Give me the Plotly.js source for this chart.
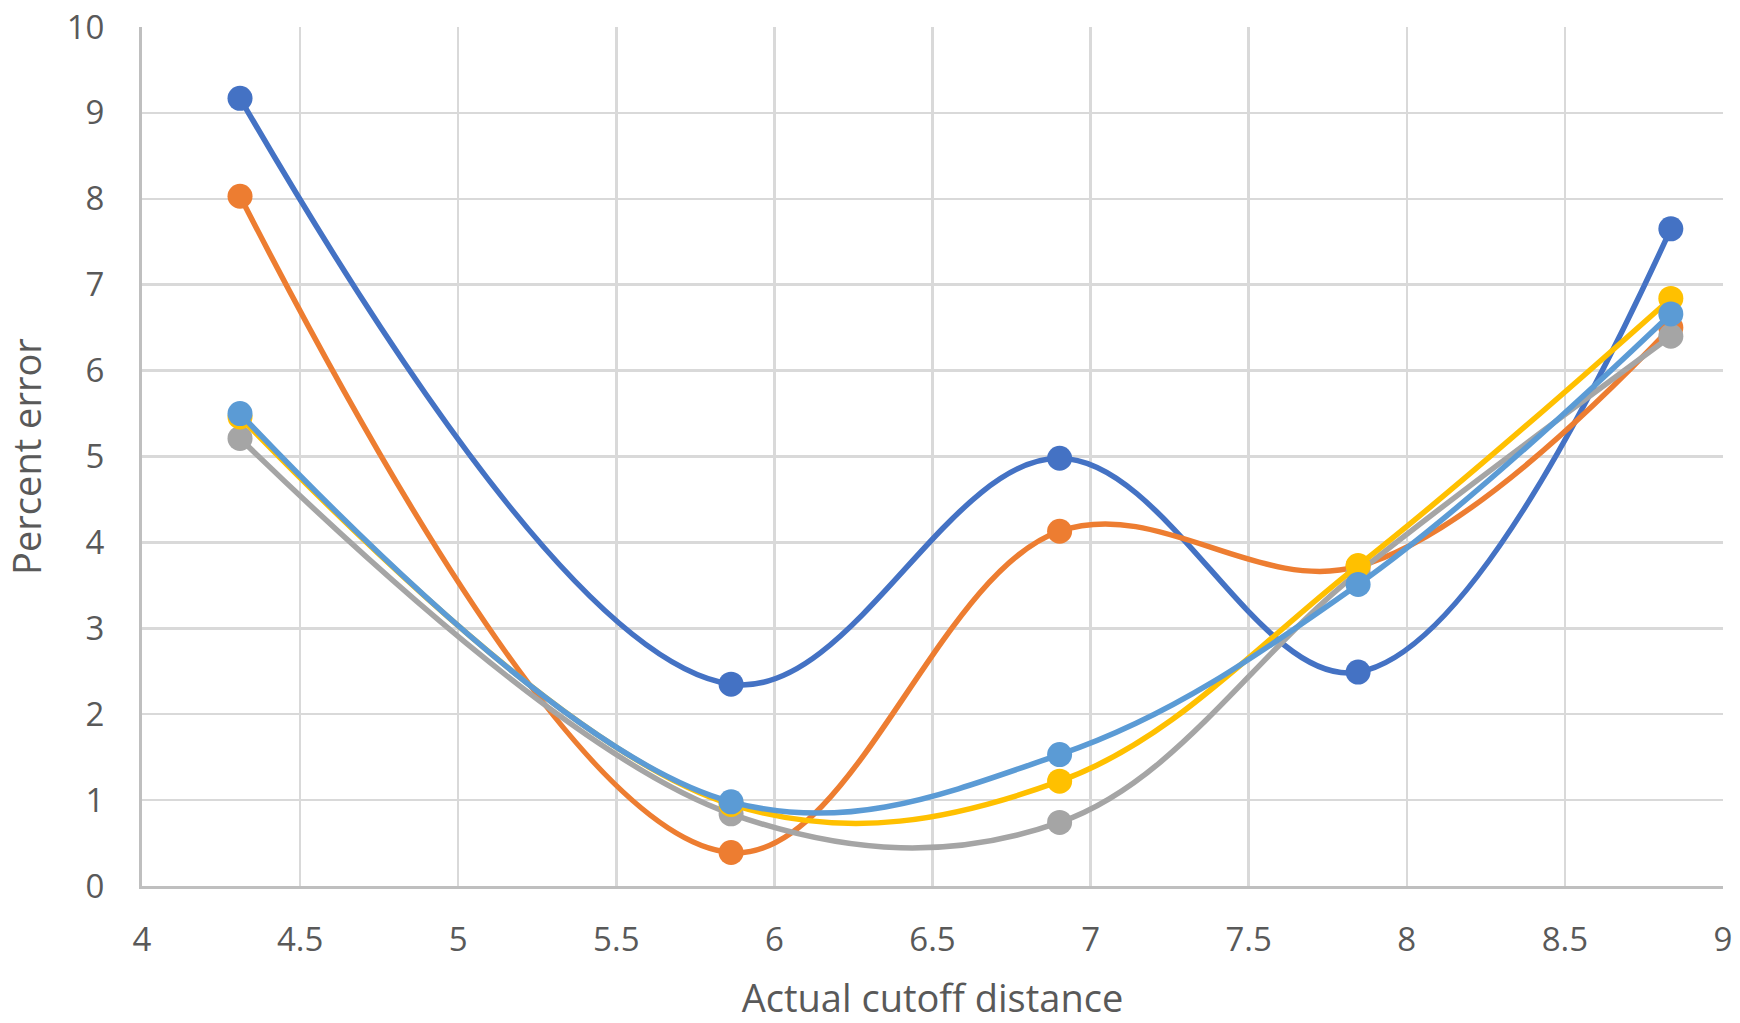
<!DOCTYPE html>
<html>
<head>
<meta charset="utf-8">
<script src="https://cdn.plot.ly/plotly-3.0.1.min.js"></script>
<style>html,body{margin:0;padding:0;background:#fff;}#chart{width:1740px;height:1023px;}</style>
</head>
<body>
<div id="chart"></div>
<script>
const xValues = [4.31, 5.863, 6.902, 7.846, 8.835];
const series1 = [9.17, 2.35, 4.98, 2.49, 7.65];
const series2 = [8.03, 0.39, 4.13, 3.72, 6.50];
const series3 = [5.21, 0.84, 0.74, 3.65, 6.40];
const series4 = [5.46, 0.95, 1.22, 3.73, 6.84];
const series5 = [5.50, 0.98, 1.53, 3.51, 6.66];
const seriesNames = ["Series1", "Series2", "Series3", "Series4", "Series5"];
const seriesColors = ["#4472C4", "#ED7D31", "#A5A5A5", "#FFC000", "#5B9BD5"];
const xTickVals = [4, 4.5, 5, 5.5, 6, 6.5, 7, 7.5, 8, 8.5, 9];
const yTickVals = [0, 1, 2, 3, 4, 5, 6, 7, 8, 9, 10];

const allSeries = [series1, series2, series3, series4, series5];
const traces = allSeries.map((ys, i) => ({
  x: xValues, y: ys, name: seriesNames[i], type: 'scatter', mode: 'lines+markers',
  line: {color: seriesColors[i], width: 5.5, shape: 'spline', smoothing: 1.05},
  marker: {color: seriesColors[i], size: 25}
}));

const font = "'Open Sans', 'Noto Sans', sans-serif";
const layout = {
  width: 1740, height: 1023,
  margin: {l: 142, r: 17, t: 27, b: 137},
  showlegend: false,
  paper_bgcolor: '#fff', plot_bgcolor: '#fff',
  font: {family: font, color: '#595959', size: 33},
  xaxis: {
    range: [4, 9], tickvals: xTickVals, ticktext: xTickVals.map(String),
    showgrid: true, gridcolor: '#D9D9D9', gridwidth: 2.5,
    showline: true, linecolor: '#BFBFBF', linewidth: 3,
    zeroline: false, ticks: '', ticklabelstandoff: 22,
    tickfont: {size: 33, color: '#595959', family: font},
    title: {text: 'Actual cutoff distance', font: {size: 38, color: '#595959', family: font}, standoff: 28}
  },
  yaxis: {
    range: [0, 10], tickvals: yTickVals, ticktext: yTickVals.map(String),
    showgrid: true, gridcolor: '#D9D9D9', gridwidth: 2.5,
    showline: true, linecolor: '#BFBFBF', linewidth: 3,
    zeroline: false, ticks: '', ticklabelstandoff: 28,
    tickfont: {size: 33, color: '#595959', family: font},
    title: {text: 'Percent error', font: {size: 38, color: '#595959', family: font}, standoff: 28}
  }
};
Plotly.newPlot('chart', traces, layout, {displayModeBar: false, staticPlot: true});
</script>
</body>
</html>
